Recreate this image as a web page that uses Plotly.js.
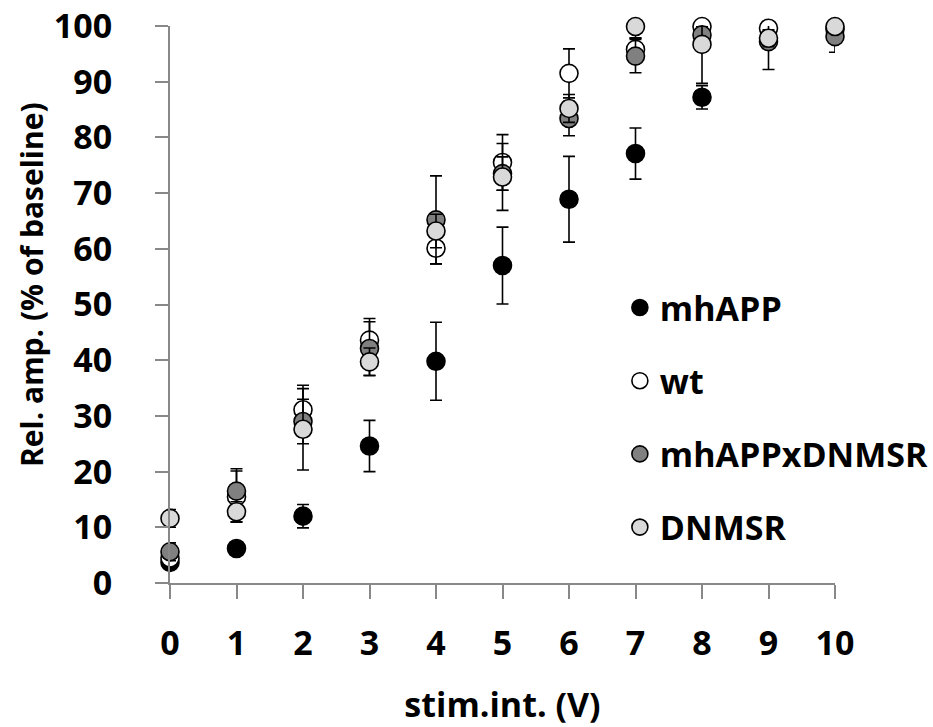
<!DOCTYPE html>
<html>
<head>
<meta charset="utf-8">
<script src="https://cdn.plot.ly/plotly-3.0.1.min.js"></script>
<style>
  html, body { margin: 0; padding: 0; background: #ffffff; }
  #chart { width: 933px; height: 727px; }
</style>
</head>
<body>
<div id="chart"></div>
<script>
// stimulation intensity (V)
const stimMhAPP = [0, 1, 2, 3, 4, 5, 6, 7, 8];
const stimAll = [0, 1, 2, 3, 4, 5, 6, 7, 8, 9, 10];

// relative amplitude (% of baseline) and error bars
const mhAPP = [3.7, 6.2, 12.0, 24.6, 39.8, 57.0, 68.9, 77.1, 87.2];
const mhAPPErr = [0.8, 0.7, 2.1, 4.6, 7.0, 6.9, 7.7, 4.6, 2.1];

const wt = [4.5, 15.5, 31.1, 43.6, 60.1, 75.5, 91.5, 95.8, 99.9, 99.6, 99.4];
const wtErr = [1.0, 4.6, 4.4, 3.9, 2.8, 5.0, 4.4, 2.0, 1.5, 1.5, 1.0];

const mhAPPxDNMSR = [5.6, 16.5, 29.0, 42.1, 65.2, 73.5, 83.4, 94.6, 98.4, 97.2, 98.1];
const mhAPPxDNMSRErr = [1.6, 4.0, 4.0, 4.8, 7.9, 3.0, 3.1, 3.0, 1.5, 5.0, 2.8];

const DNMSR = [11.6, 12.8, 27.6, 39.7, 63.2, 72.9, 85.2, 99.9, 96.7, 97.8, 99.9];
const DNMSRErr = [1.6, 1.8, 7.3, 2.5, 3.0, 6.0, 2.5, 2.0, 7.0, 1.5, 1.0];

const seriesNames = ['mhAPP', 'wt', 'mhAPPxDNMSR', 'DNMSR'];
const xTicks = [0, 1, 2, 3, 4, 5, 6, 7, 8, 9, 10];
const yTicks = [0, 10, 20, 30, 40, 50, 60, 70, 80, 90, 100];
const xTitle = 'stim.int. (V)';
const yTitle = 'Rel. amp. (% of baseline)';

const FONT = 'Open Sans, DejaVu Sans, sans-serif';

function mk(name, x, y, err, fill, group) {
  return {
    type: 'scatter',
    mode: 'markers',
    name: name,
    legendgroup: group,
    x: x,
    y: y,
    cliponaxis: false,
    marker: { size: 18, color: fill, line: { color: '#000000', width: 1.6 } },
    error_y: { type: 'data', array: err, visible: true, color: '#000000', thickness: 1.6, width: 6 }
  };
}

const data = [
  mk(seriesNames[0], stimMhAPP, mhAPP, mhAPPErr, '#000000', 'g1'),
  mk(seriesNames[1], stimAll, wt, wtErr, '#ffffff', 'g2'),
  mk(seriesNames[2], stimAll, mhAPPxDNMSR, mhAPPxDNMSRErr, '#808080', 'g3'),
  mk(seriesNames[3], stimAll, DNMSR, DNMSRErr, '#d9d9d9', 'g4')
];

const layout = {
  width: 933,
  height: 727,
  margin: { l: 170, r: 98, t: 26, b: 144, autoexpand: false },
  paper_bgcolor: '#ffffff',
  plot_bgcolor: '#ffffff',
  font: { family: FONT, size: 34, color: '#000000', weight: 'bold' },
  showlegend: true,
  legend: {
    x: 0.6765, y: 0.546, xanchor: 'left', yanchor: 'top',
    bgcolor: 'rgba(0,0,0,0)',
    traceorder: 'grouped',
    tracegroupgap: 26,
    font: { family: FONT, size: 34, color: '#000000', weight: 'bold' }
  },
  xaxis: {
    range: [0, 10],
    tickvals: xTicks,
    ticktext: xTicks.map(String),
    showgrid: false,
    zeroline: false,
    showline: true,
    linecolor: '#888888',
    linewidth: 2,
    ticks: 'outside',
    ticklen: 14,
    tickwidth: 2,
    tickcolor: '#888888',
    ticklabelstandoff: 15,
    automargin: false,
    tickfont: { family: FONT, size: 34, color: '#000000', weight: 'bold' },
    title: { text: xTitle, standoff: 35, font: { family: FONT, size: 34, color: '#000000', weight: 'bold' } }
  },
  yaxis: {
    range: [0, 100],
    tickvals: yTicks,
    ticktext: yTicks.map(String),
    showgrid: false,
    zeroline: false,
    showline: true,
    linecolor: '#888888',
    linewidth: 2,
    ticks: 'outside',
    ticklen: 13,
    tickwidth: 2,
    tickcolor: '#888888',
    ticklabelstandoff: 36,
    automargin: false,
    tickfont: { family: FONT, size: 34, color: '#000000', weight: 'bold' }
  },
  annotations: [{
    text: yTitle,
    xref: 'paper', yref: 'paper',
    x: -0.209, y: 0.535,
    xanchor: 'center', yanchor: 'middle',
    textangle: -90,
    showarrow: false,
    font: { family: FONT, size: 30, color: '#000000', weight: 'bold' }
  }]
};

Plotly.newPlot('chart', data, layout, { displayModeBar: false, responsive: false });
</script>
</body>
</html>
